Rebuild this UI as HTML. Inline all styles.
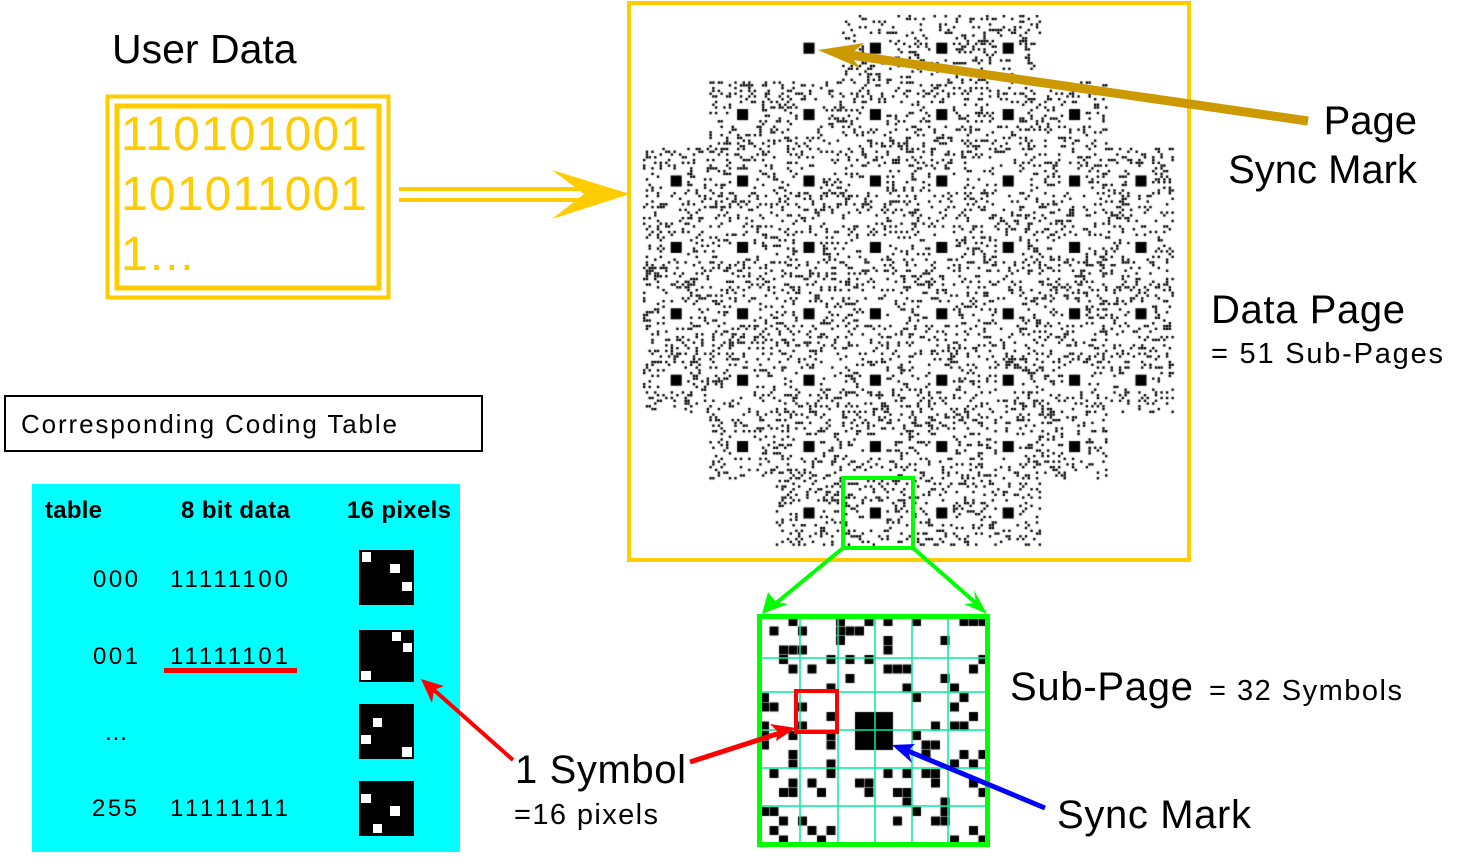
<!DOCTYPE html>
<html><head><meta charset="utf-8"><style>
html,body{margin:0;padding:0;background:#fff;}
#wrap{position:relative;width:1476px;height:867px;overflow:hidden;}
canvas,svg{position:absolute;left:0;top:0;}
text{font-family:"Liberation Sans",Arial,sans-serif;}
</style></head><body><div id="wrap">
<svg width="1476" height="867" viewBox="0 0 1476 867" id="bg">
<rect x="32" y="484" width="428" height="368" fill="#00FFFF"/>
</svg>
<canvas id="cv" width="1476" height="867"></canvas>
<svg width="1476" height="867" viewBox="0 0 1476 867">
<!-- User data -->
<text x="112" y="63" font-size="41">User Data</text>
<rect x="107.5" y="96.5" width="281" height="201" fill="none" stroke="#FFCC00" stroke-width="4"/>
<rect x="117" y="106" width="262" height="182" fill="none" stroke="#FFCC00" stroke-width="5"/>
<g fill="#FFCC00" font-size="48">
<text x="121" y="150" textLength="246">110101001</text>
<text x="121" y="210" textLength="246">101011001</text>
<text x="121" y="270">1…</text>
</g>
<line x1="399" y1="189" x2="590" y2="189" stroke="#FFCC00" stroke-width="4"/>
<line x1="399" y1="200" x2="590" y2="200" stroke="#FFCC00" stroke-width="4"/>
<polygon points="630,194 552,170 584,194 552,219" fill="#FFCC00"/>
<!-- Data page frame -->
<rect x="629" y="3" width="560" height="557" fill="none" stroke="#FFCC00" stroke-width="4"/>
<!-- page sync arrow -->
<line x1="1308" y1="121" x2="850" y2="55" stroke="#CC9900" stroke-width="9"/>
<polygon points="818,50 864,43 850,55 860,68" fill="#CC9900"/>
<text x="1417" y="134" font-size="40" text-anchor="end">Page</text>
<text x="1417" y="183" font-size="40" text-anchor="end">Sync Mark</text>
<text x="1211" y="323" font-size="40" textLength="194">Data Page</text>
<text x="1211" y="363" font-size="29" textLength="232">= 51 Sub-Pages</text>
<!-- green small box + connectors -->
<rect x="843" y="478" width="70" height="70" fill="none" stroke="#00FF00" stroke-width="4"/>
<line x1="843" y1="548" x2="775" y2="604" stroke="#00FF00" stroke-width="4"/>
<polygon points="762,614 768,592 776,602 788,604" fill="#00FF00"/>
<line x1="913" y1="548" x2="977" y2="604" stroke="#00FF00" stroke-width="4"/>
<polygon points="987,614 964,604 976,603 974,590" fill="#00FF00"/>
<!-- sub-page grid lines -->
<g stroke="#00EE99" stroke-width="1.5">
<line x1="800" y1="617" x2="800" y2="843"/><line x1="838" y1="617" x2="838" y2="843"/>
<line x1="875" y1="617" x2="875" y2="843"/><line x1="912" y1="617" x2="912" y2="843"/>
<line x1="948" y1="617" x2="948" y2="843"/>
<line x1="760" y1="658" x2="985" y2="658"/><line x1="760" y1="692" x2="985" y2="692"/>
<line x1="760" y1="730" x2="985" y2="730"/><line x1="760" y1="768" x2="985" y2="768"/>
<line x1="760" y1="806" x2="985" y2="806"/>
</g>
<rect x="759.5" y="616.5" width="228" height="228" fill="none" stroke="#00FF00" stroke-width="5"/>
<rect x="796" y="691" width="41" height="41" fill="none" stroke="#FF0000" stroke-width="4"/>
<!-- red/blue arrows -->
<line x1="513" y1="760" x2="434" y2="690" stroke="#FF0000" stroke-width="4"/>
<polygon points="421,679 444,686 434,690 432,703" fill="#FF0000"/>
<line x1="690" y1="762" x2="780" y2="733" stroke="#FF0000" stroke-width="5"/>
<polygon points="796,728 776,741 778,732 770,724" fill="#FF0000"/>
<line x1="1045" y1="808" x2="908" y2="751" stroke="#0000FF" stroke-width="5"/>
<polygon points="892,745 915,744 908,751 912,763" fill="#0000FF"/>
<text x="515" y="783" font-size="40" textLength="171">1 Symbol</text>
<text x="514" y="824" font-size="29" textLength="144">=16 pixels</text>
<text x="1010" y="700" font-size="40" textLength="183">Sub-Page</text>
<text x="1209" y="700" font-size="29" textLength="193">= 32 Symbols</text>
<text x="1057" y="828" font-size="40" textLength="194">Sync Mark</text>
<!-- coding table -->
<rect x="5" y="396" width="477" height="55" fill="none" stroke="#000" stroke-width="2"/>
<text x="21" y="433" font-size="26" textLength="376" font-family="DejaVu Sans, sans-serif">Corresponding Coding Table</text>
<g font-size="24" font-weight="bold">
<text x="45" y="518" textLength="57">table</text>
<text x="181" y="518" textLength="109">8 bit data</text>
<text x="347" y="518" textLength="104">16 pixels</text>
</g>
<g font-size="24">
<text x="93" y="587" textLength="45">000</text><text x="170" y="587" textLength="118">11111100</text>
<text x="93" y="664" textLength="45">001</text><text x="170" y="664" textLength="118">11111101</text>
<text x="104" y="740">…</text>
<text x="92" y="816" textLength="45">255</text><text x="170" y="816" textLength="118">11111111</text>
</g>
<rect x="164" y="668" width="133" height="5" fill="#FF0000"/>
<g fill="#000">
<rect x="359" y="550" width="55" height="55"/><rect x="359" y="630" width="55" height="52"/>
<rect x="359" y="704" width="55" height="55"/><rect x="359" y="781" width="55" height="55"/>
</g>
<g fill="#fff">
<rect x="362" y="552" width="9" height="10"/><rect x="390" y="564" width="10" height="9"/><rect x="402" y="582" width="10" height="9"/>
<rect x="392" y="632" width="9" height="9"/><rect x="403" y="643" width="9" height="9"/><rect x="361" y="671" width="10" height="9"/>
<rect x="373" y="718" width="9" height="9"/><rect x="361" y="735" width="10" height="9"/><rect x="402" y="747" width="10" height="10"/>
<rect x="361" y="794" width="10" height="9"/><rect x="390" y="806" width="10" height="10"/><rect x="373" y="824" width="9" height="9"/>
</g>
</svg>
</div>
<script>
(function(){
var c=document.getElementById('cv').getContext('2d');
var s=12345;function r(){s=(s*1103515245+12345)&0x7fffffff;return s/0x7fffffff;}
c.fillStyle='#000';
var rows=[[3,5],[1,6],[0,7],[0,7],[0,7],[0,7],[1,6],[2,5]];
var W=66.4,p=W/24;
function sub(x0,y0,ps,noise,sz,d){
 if(noise){for(var j=0;j<24;j++)for(var i=0;i<24;i++){
  if(i>=8&&i<16&&j>=8&&j<16)continue;
  if(r()<d)c.fillRect(x0+i*ps,y0+j*ps,sz,sz);}}
 c.fillRect(x0+10*ps,y0+10*ps,4*ps,4*ps);
}
for(var rr=0;rr<8;rr++){for(var cc=rows[rr][0];cc<=rows[rr][1];cc++){
 sub(643+cc*W,15+rr*W,p,true,2.4,0.19);}}
sub(643+2*W,15,p,false,2.4,0);
// zoomed sub-page
sub(760,617,9.5,true,9,0.16);
})();
</script>
</body></html>
